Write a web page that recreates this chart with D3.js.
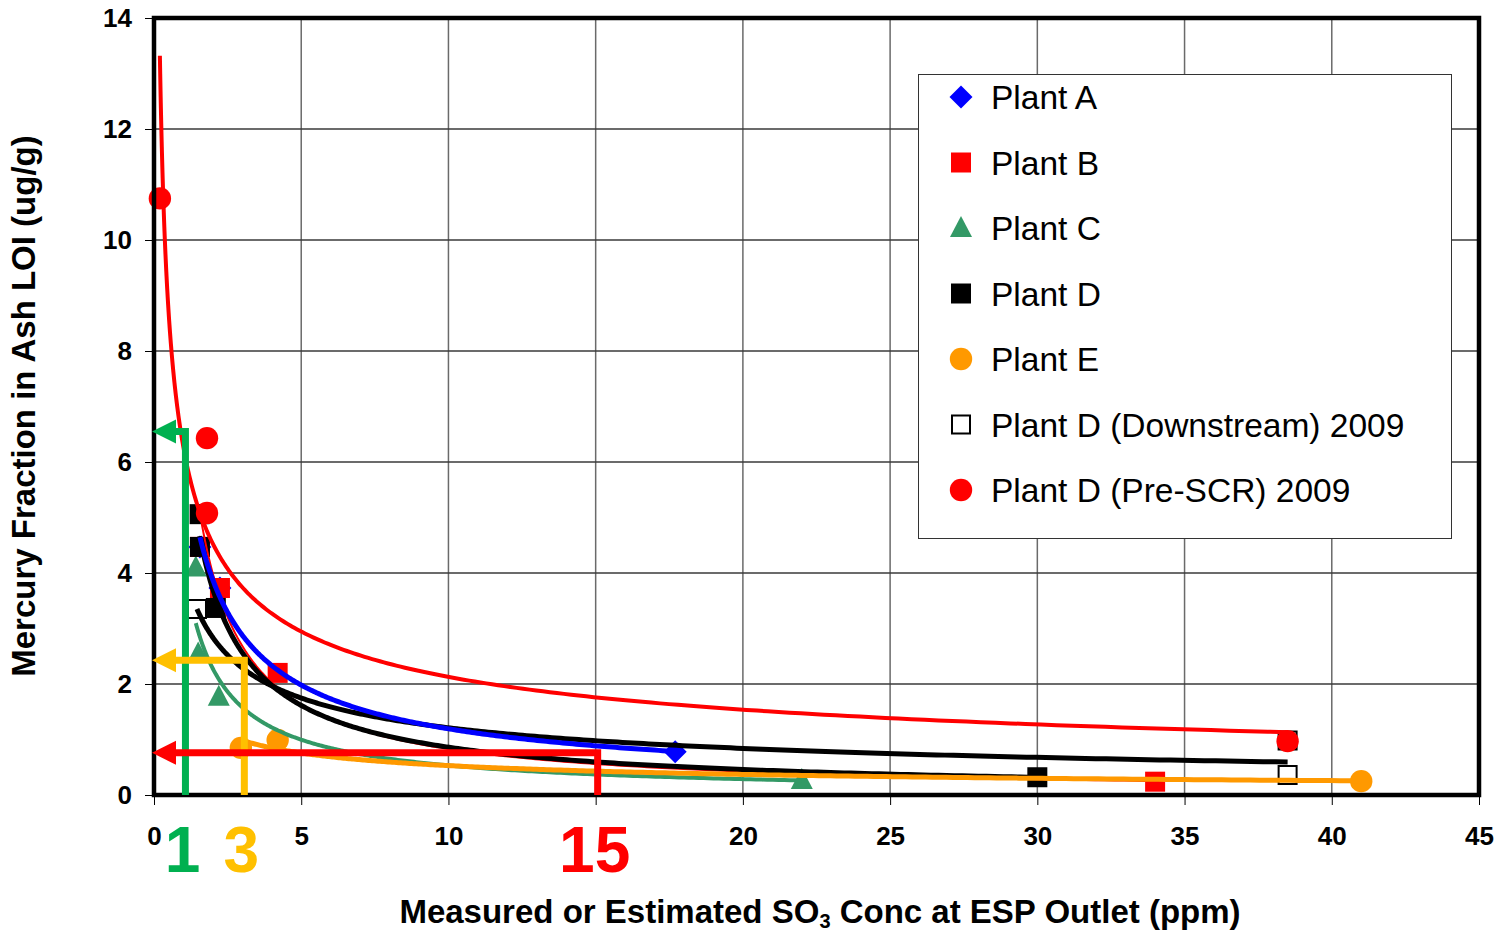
<!DOCTYPE html>
<html>
<head>
<meta charset="utf-8">
<script src="https://cdn.jsdelivr.net/npm/d3@7"></script>
<style>
  body { margin: 0; background: #fff; }
  svg { display: block; }
  text { font-family: Arial, "Liberation Sans", sans-serif; }
</style>
</head>
<body>
<svg id="chart" width="1509" height="934"></svg>
<script>
// ---- data (x = SO3 ppm, y = Hg in ash LOI ug/g) ----
const seriesNames = ['Plant A', 'Plant B', 'Plant C', 'Plant D', 'Plant E',
                     'Plant D (Downstream) 2009', 'Plant D (Pre-SCR) 2009'];

const plantA_x = [1.56, 2.24, 17.7];
const plantA_y = [4.47, 3.73, 0.78];
const plantB_x = [1.56, 2.24, 4.2, 34.0];
const plantB_y = [4.47, 3.73, 2.2, 0.24];
const plantC_x = [1.42, 1.5, 2.2, 22.0];
const plantC_y = [4.1, 2.55, 1.77, 0.27];
const plantD_x = [1.55, 1.56, 2.1, 30.0];
const plantD_y = [5.06, 4.47, 3.37, 0.32];
const plantE_x = [2.95, 4.2, 41.0];
const plantE_y = [0.85, 0.99, 0.25];
const down_x = [1.46, 38.5, 38.5];
const down_y = [3.35, 0.98, 0.36];
const pre_x = [0.2, 1.8, 1.8, 38.5];
const pre_y = [10.75, 6.43, 5.08, 0.97];

// annotation arrows: SO3 level -> Hg level, with the big labels under the axis
const noteX = [1, 3, 15];
const noteY = [6.55, 2.43, 0.76];
const noteLabels = ['1', '3', '15'];

const xTicks = [0, 5, 10, 15, 20, 25, 30, 35, 40, 45];
const xTickLabels = ['0', '5', '10', '', '20', '25', '30', '35', '40', '45'];
const yTicks = [0, 2, 4, 6, 8, 10, 12, 14];

// ---- styling ----
const series = [
  { name: seriesNames[0], xs: plantA_x, ys: plantA_y, shape: 'diamond', color: '#0000FF', lw: 5 },
  { name: seriesNames[1], xs: plantB_x, ys: plantB_y, shape: 'square',  color: '#FF0000', lw: 2 },
  { name: seriesNames[2], xs: plantC_x, ys: plantC_y, shape: 'triangle',color: '#339966', lw: 4 },
  { name: seriesNames[3], xs: plantD_x, ys: plantD_y, shape: 'square',  color: '#000000', lw: 5 },
  { name: seriesNames[4], xs: plantE_x, ys: plantE_y, shape: 'circle',  color: '#FF9900', lw: 5 },
  { name: seriesNames[5], xs: down_x,   ys: down_y,   shape: 'open',    color: '#000000', lw: 5 },
  { name: seriesNames[6], xs: pre_x,    ys: pre_y,    shape: 'circle',  color: '#FF0000', lw: 4 }
];
const lineOrder = [1, 3, 5, 2, 0, 4, 6];
const noteColors = ['#00B050', '#FFC000', '#FF0000'];

const svg = d3.select('#chart');
const plot = { left: 154, top: 18, right: 1479, bottom: 795 };

const x = d3.scaleLinear().domain([0, 45]).range([plot.left, plot.right]);
const y = d3.scaleLinear().domain([0, 14]).range([plot.bottom, plot.top]);

// Excel-style power trendline: least squares on ln(x), ln(y)
function powerFit(xs, ys) {
  const lx = xs.map(Math.log), ly = ys.map(Math.log);
  const mx = d3.mean(lx), my = d3.mean(ly);
  const sxy = d3.sum(lx, (v, i) => (v - mx) * (ly[i] - my));
  const sxx = d3.sum(lx, v => (v - mx) * (v - mx));
  const b = sxy / sxx;
  const a = Math.exp(my - b * mx);
  return { a, b };
}

function markerPath(shape) {
  if (shape === 'diamond') return 'M0,-11.5L11.5,0L0,11.5L-11.5,0Z';
  if (shape === 'triangle') return 'M0,-12L11,9L-11,9Z';
  if (shape === 'circle') return d3.symbol(d3.symbolCircle, Math.PI * 11.2 * 11.2)();
  return 'M-10,-10H10V10H-10Z';
}

function drawMarker(g, shape, color) {
  const p = g.append('path');
  if (shape === 'open') {
    p.attr('d', 'M-9,-9H9V9H-9Z').attr('fill', '#fff').attr('stroke', '#000').attr('stroke-width', 2);
  } else {
    p.attr('d', markerPath(shape)).attr('fill', color);
  }
}

// gridlines
svg.append('g')
  .selectAll('line')
  .data(xTicks.filter(t => t > 0 && t < 45))
  .join('line')
  .attr('x1', d => x(d)).attr('x2', d => x(d))
  .attr('y1', plot.top).attr('y2', plot.bottom)
  .attr('stroke', '#6a6a6a').attr('stroke-width', 1.5);

svg.append('g')
  .selectAll('line')
  .data(yTicks.filter(t => t > 0 && t < 14))
  .join('line')
  .attr('x1', plot.left).attr('x2', plot.right)
  .attr('y1', d => y(d)).attr('y2', d => y(d))
  .attr('stroke', '#3a3a3a').attr('stroke-width', 1.3);

// axes (ticks + labels); the 15 label is replaced by the big red annotation
const xAxis = svg.append('g')
  .attr('transform', `translate(0,${plot.bottom})`)
  .call(d3.axisBottom(x).tickValues(xTicks).tickSize(10).tickPadding(22)
    .tickFormat((d, i) => xTickLabels[i]));
const yAxis = svg.append('g')
  .attr('transform', `translate(${plot.left},0)`)
  .call(d3.axisLeft(y).tickValues(yTicks).tickSize(9).tickPadding(13).tickFormat(d3.format('d')));

[xAxis, yAxis].forEach(ax => {
  ax.select('.domain').remove();
  ax.selectAll('.tick line').attr('stroke', '#000').attr('stroke-width', 1);
  ax.selectAll('.tick text')
    .attr('fill', '#000')
    .style('font-size', '26px')
    .style('font-weight', 'bold')
    .style('font-family', 'Arial, "Liberation Sans", sans-serif');
});

// markers
series.forEach(s => {
  const g = svg.append('g');
  s.xs.forEach((xv, i) => {
    const m = g.append('g').attr('transform', `translate(${x(xv)},${y(s.ys[i])})`);
    drawMarker(m, s.shape, s.color);
  });
});

// trendlines
const line = d3.line().x(d => x(d[0])).y(d => y(d[1]));
lineOrder.forEach(idx => {
  const s = series[idx];
  const fit = powerFit(s.xs, s.ys);
  const x0 = d3.min(s.xs), x1 = d3.max(s.xs);
  const pts = d3.range(0, 301).map(k => {
    const xv = x0 * Math.pow(x1 / x0, k / 300);
    return [xv, fit.a * Math.pow(xv, fit.b)];
  });
  svg.append('path')
    .datum(pts)
    .attr('d', line)
    .attr('fill', 'none')
    .attr('stroke', s.color)
    .attr('stroke-width', s.lw)
    .attr('stroke-linejoin', 'round');
});

// plot frame
svg.append('rect')
  .attr('x', plot.left).attr('y', plot.top)
  .attr('width', plot.right - plot.left).attr('height', plot.bottom - plot.top)
  .attr('fill', 'none').attr('stroke', '#000').attr('stroke-width', 4.5);

// annotation arrows
noteX.forEach((nx, i) => {
  const px = x(nx) + 2, py = y(noteY[i]);
  const headBase = plot.left + 22;
  svg.append('path')
    .attr('d', `M${px},${plot.bottom}V${py}H${headBase}`)
    .attr('fill', 'none')
    .attr('stroke', noteColors[i])
    .attr('stroke-width', 7)
    .attr('stroke-linejoin', 'miter');
  svg.append('path')
    .attr('d', `M${plot.left - 2},${py}L${headBase},${py - 12}L${headBase},${py + 12}Z`)
    .attr('fill', noteColors[i]);
  svg.append('text')
    .attr('x', px - 3).attr('y', 872)
    .attr('text-anchor', 'middle')
    .attr('fill', noteColors[i])
    .style('font-size', '64px')
    .style('font-weight', 'bold')
    .text(noteLabels[i]);
});

// legend
const legend = svg.append('g');
legend.append('rect')
  .attr('x', 918.5).attr('y', 74.5).attr('width', 533).attr('height', 464)
  .attr('fill', '#fff').attr('stroke', '#333').attr('stroke-width', 1);
series.forEach((s, i) => {
  const cy = 97 + i * 65.5;
  const m = legend.append('g').attr('transform', `translate(961,${cy})`);
  drawMarker(m, s.shape, s.color);
  legend.append('text')
    .attr('x', 991).attr('y', cy + 12)
    .style('font-size', '33.5px')
    .attr('fill', '#000')
    .text(s.name);
});

// axis titles
const xTitle = svg.append('text')
  .attr('x', 820).attr('y', 923)
  .attr('text-anchor', 'middle')
  .style('font-size', '33px')
  .style('font-weight', 'bold');
xTitle.append('tspan').text('Measured or Estimated SO');
xTitle.append('tspan').attr('dy', 5).style('font-size', '20px').text('3');
xTitle.append('tspan').attr('dy', -5).text(' Conc at ESP Outlet (ppm)');

svg.append('text')
  .attr('transform', 'translate(35,406) rotate(-90)')
  .attr('text-anchor', 'middle')
  .style('font-size', '33px')
  .style('font-weight', 'bold')
  .text('Mercury Fraction in Ash LOI (ug/g)');
</script>
</body>
</html>
